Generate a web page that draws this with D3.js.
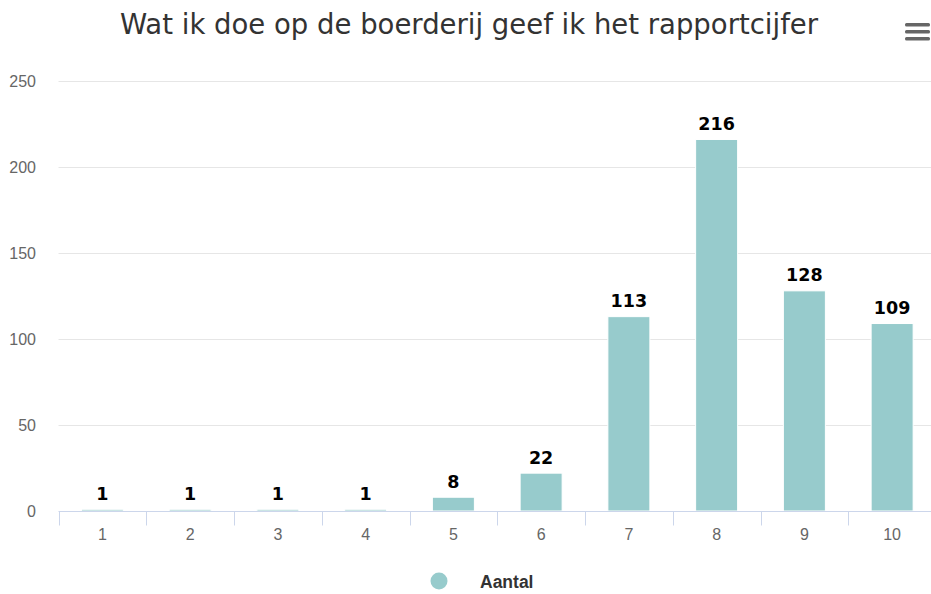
<!DOCTYPE html>
<html>
<head>
<meta charset="utf-8">
<script src="https://cdn.jsdelivr.net/npm/d3@7"></script>
<style>
  body { margin: 0; background: #fff; }
</style>
</head>
<body>
<div id="chart"></div>
<script>
const categories = ["1", "2", "3", "4", "5", "6", "7", "8", "9", "10"];
const aantal = [1, 1, 1, 1, 8, 22, 113, 216, 128, 109];
const yTicks = [0, 50, 100, 150, 200, 250];
const titleText = "Wat ik doe op de boerderij geef ik het rapportcijfer";
const seriesName = "Aantal";

const width = 931;
const height = 594;
const marginTop = 81;
const marginRight = -5;
const marginBottom = 83;
const marginLeft = 58.5;
const barColor = "#97cbcc";

const svg = d3.select("#chart")
  .append("svg")
  .attr("width", width)
  .attr("height", height);

const x = d3.scaleBand()
  .domain(categories)
  .range([marginLeft, width - marginRight])
  .paddingInner(0)
  .paddingOuter(0);

const y = d3.scaleLinear()
  .domain([0, 250])
  .range([height - marginBottom, marginTop]);

// title
svg.append("text")
  .attr("x", 469)
  .attr("y", 34)
  .attr("text-anchor", "middle")
  .style("font-family", "DejaVu Sans")
  .style("font-size", "27.5px")
  .style("fill", "#333333")
  .text(titleText);

// menu icon
[0, 1, 2].forEach(i => {
  svg.append("rect")
    .attr("x", 905)
    .attr("y", 23 + i * 7)
    .attr("width", 25)
    .attr("height", 3.5)
    .attr("rx", 1.5)
    .attr("fill", "#666666");
});

// grid
svg.append("g")
  .selectAll("line")
  .data(yTicks.filter(d => d > 0))
  .enter()
  .append("line")
  .attr("x1", marginLeft)
  .attr("x2", width)
  .attr("y1", d => Math.round(y(d)) + 0.5)
  .attr("y2", d => Math.round(y(d)) + 0.5)
  .attr("stroke", "#e6e6e6")
  .attr("stroke-width", 1);

// y labels
svg.append("g")
  .selectAll("text")
  .data(yTicks)
  .enter()
  .append("text")
  .attr("x", 36)
  .attr("y", d => y(d) + 6)
  .attr("text-anchor", "end")
  .style("font-family", "Liberation Sans, Arial, sans-serif")
  .style("font-size", "16px")
  .style("fill", "#666666")
  .text(d => d);

// bars
const barW = 42;
svg.append("g")
  .selectAll("rect")
  .data(aantal)
  .enter()
  .append("rect")
  .attr("x", (d, i) => x(categories[i]) + x.bandwidth() / 2 - barW / 2)
  .attr("y", d => y(d))
  .attr("width", barW)
  .attr("height", d => y(0) - y(d))
  .attr("fill", barColor)
  .attr("stroke", "#ffffff")
  .attr("stroke-width", 1);

// x axis
const xAxisY = Math.round(y(0)) + 0.5;
svg.append("line")
  .attr("x1", marginLeft)
  .attr("x2", width)
  .attr("y1", xAxisY)
  .attr("y2", xAxisY)
  .attr("stroke", "#ccd6eb")
  .attr("stroke-width", 1);

svg.append("g")
  .selectAll("line")
  .data(categories)
  .enter()
  .append("line")
  .attr("x1", d => Math.round(x(d)) + 0.5)
  .attr("x2", d => Math.round(x(d)) + 0.5)
  .attr("y1", xAxisY)
  .attr("y2", xAxisY + 14)
  .attr("stroke", "#ccd6eb")
  .attr("stroke-width", 1);

svg.append("g")
  .selectAll("text")
  .data(categories)
  .enter()
  .append("text")
  .attr("x", d => x(d) + x.bandwidth() / 2)
  .attr("y", xAxisY + 28)
  .attr("text-anchor", "middle")
  .style("font-family", "Liberation Sans, Arial, sans-serif")
  .style("font-size", "16px")
  .style("fill", "#666666")
  .text(d => d);

// data labels
svg.append("g")
  .selectAll("text")
  .data(aantal)
  .enter()
  .append("text")
  .attr("x", (d, i) => x(categories[i]) + x.bandwidth() / 2)
  .attr("y", d => y(d) - 9.5)
  .attr("text-anchor", "middle")
  .style("font-family", "DejaVu Sans")
  .style("font-weight", "bold")
  .style("font-size", "17.5px")
  .style("fill", "#000000")
  .text(d => d);

// legend
svg.append("circle")
  .attr("cx", 439)
  .attr("cy", 581)
  .attr("r", 8.5)
  .attr("fill", barColor);

svg.append("text")
  .attr("x", 480)
  .attr("y", 588)
  .style("font-family", "Liberation Sans, Arial, sans-serif")
  .style("font-weight", "bold")
  .style("font-size", "17.5px")
  .style("fill", "#333333")
  .text(seriesName);
</script>
</body>
</html>
